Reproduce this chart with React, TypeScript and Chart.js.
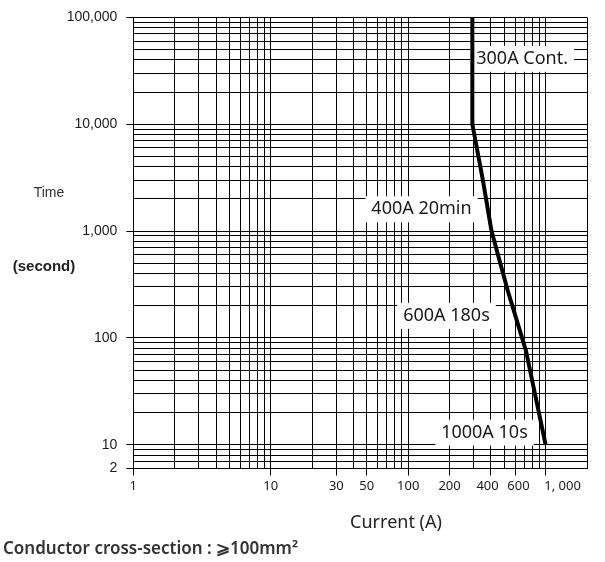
import React, { useEffect, useRef } from 'react';
import { Chart, registerables } from 'chart.js';

Chart.register(...registerables);

// Fuse curve: current (A) vs time (s)
const currentA = [293, 293, 351, 404, 531, 651, 719, 1000];
const timeS = [100000, 10000, 2900, 1000, 275, 116, 76, 10];

// Axis ranges and labels
const xMin = 1;
const xMax = 2000;
const yMin = 6;
const yMax = 100000;
const xLabelValues = [1, 10, 30, 50, 100, 200, 400, 600, 1000];
const xLabelTexts = ['1', '10', '30', '50', '100', '200', '400  ', '  600', '          1, 000'];
const yLabelValues = [6, 10, 100, 1000, 10000, 100000];
const yLabelTexts = ['2', '10', '100', '1,000', '10,000', '100,000'];

// Annotations on the curve
const noteTexts = ['300A Cont.', '400A 20min', '600A 180s', '1000A 10s'];
const noteX = [675, 125, 190, 359];
const noteY = [41000, 1600, 161, 13];

const xTitle = 'Current (A)';
const yTitle1 = 'Time';
const yTitle2 = '(second)';
const footer = 'Conductor cross-section : \u2A7E100mm\u00B2';

function logGrid(min: number, max: number): number[] {
  const out: number[] = [];
  for (let d = 1; d <= max; d *= 10) {
    for (let m = 1; m <= 9; m++) {
      const v = m * d;
      if (v >= min && v <= max) out.push(v);
    }
  }
  return out;
}

const xGrid = logGrid(xMin, xMax);
const yGrid = logGrid(yMin, yMax);

const decorPlugin = {
  id: 'decor',
  beforeDatasetsDraw(chart: any) {
    const { ctx, scales } = chart;
    const x = scales.x;
    const y = scales.y;
    ctx.save();
    ctx.font = '18px "Noto Sans"';
    ctx.textAlign = 'center';
    ctx.textBaseline = 'middle';
    noteTexts.forEach((t, i) => {
      const px = x.getPixelForValue(noteX[i]);
      const py = y.getPixelForValue(noteY[i]);
      const w = ctx.measureText(t).width;
      ctx.fillStyle = '#ffffff';
      ctx.fillRect(px - w / 2 - 6, py - 13, w + 12, 26);
      ctx.fillStyle = '#1a1a1a';
      ctx.fillText(t, px, py);
    });
    ctx.restore();
  },
  afterDraw(chart: any) {
    const { ctx } = chart;
    ctx.save();
    ctx.fillStyle = '#333333';
    ctx.textBaseline = 'middle';
    ctx.textAlign = 'center';
    ctx.font = '14px "Liberation Sans"';
    ctx.fillText(yTitle1, 49, 193);
    ctx.font = 'bold 15px "Liberation Sans"';
    ctx.fillStyle = '#222222';
    ctx.fillText(yTitle2, 44, 267);
    ctx.font = '18px "Noto Sans"';
    ctx.fillStyle = '#222222';
    ctx.fillText(xTitle, 396, 523);
    ctx.textAlign = 'left';
    ctx.font = '600 17px "Noto Sans"';
    ctx.fillStyle = '#333333';
    ctx.fillText(footer, 3, 549);
    ctx.restore();
  },
};

export default function App() {
  const ref = useRef<HTMLCanvasElement>(null);
  useEffect(() => {
    if (!ref.current) return;
    const chart = new Chart(ref.current, {
      type: 'line',
      data: {
        datasets: [
          {
            data: currentA.map((c, i) => ({ x: c, y: timeS[i] })),
            borderColor: '#000000',
            borderWidth: 4,
            pointRadius: 0,
            tension: 0,
            fill: false,
            borderCapStyle: 'butt',
            borderJoinStyle: 'round',
          },
        ],
      },
      options: {
        responsive: false,
        animation: false,
        layout: { padding: { left: 0, right: 18, top: 15.5, bottom: 0 } },
        plugins: { legend: { display: false }, tooltip: { enabled: false } },
        scales: {
          x: {
            type: 'logarithmic',
            min: xMin,
            max: xMax,
            afterBuildTicks: (s: any) => {
              s.ticks = xGrid.map((v) => ({ value: v }));
            },
            afterFit: (s: any) => {
              s.height = 93.5;
            },
            ticks: {
              autoSkip: false,
              maxRotation: 0,
              padding: 3,
              color: '#1a1a1a',
              font: { family: 'Noto Sans', size: 13 },
              callback: (v: any) => {
                const k = xLabelValues.indexOf(Number(v));
                return k >= 0 ? xLabelTexts[k] : '';
              },
            },
            grid: {
              color: '#000000',
              lineWidth: 1,
              tickLength: 7,
              tickColor: (c: any) =>
                c.tick && xLabelValues.indexOf(c.tick.value) >= 0 ? '#000000' : 'rgba(0,0,0,0)',
            },
            border: { display: true, color: '#000000', width: 1 },
          },
          y: {
            type: 'logarithmic',
            min: yMin,
            max: yMax,
            afterBuildTicks: (s: any) => {
              s.ticks = yGrid.map((v) => ({ value: v }));
            },
            afterFit: (s: any) => {
              s.width = 133.3;
            },
            ticks: {
              autoSkip: false,
              padding: 9,
              color: '#1a1a1a',
              font: { family: 'Liberation Sans', size: 14 },
              callback: (v: any) => {
                const k = yLabelValues.indexOf(Number(v));
                return k >= 0 ? yLabelTexts[k] : '';
              },
            },
            grid: {
              color: '#000000',
              lineWidth: 1,
              tickLength: 7,
              tickColor: (c: any) =>
                c.tick && yLabelValues.indexOf(c.tick.value) >= 0 ? '#000000' : 'rgba(0,0,0,0)',
            },
            border: { display: true, color: '#000000', width: 1 },
          },
        },
      } as any,
      plugins: [decorPlugin],
    });
    return () => chart.destroy();
  }, []);
  return (
    <div style={{ position: 'absolute', left: 0, top: 0, width: 605, height: 562, background: '#fff' }}>
      <canvas ref={ref} width={605} height={562} />
    </div>
  );
}
